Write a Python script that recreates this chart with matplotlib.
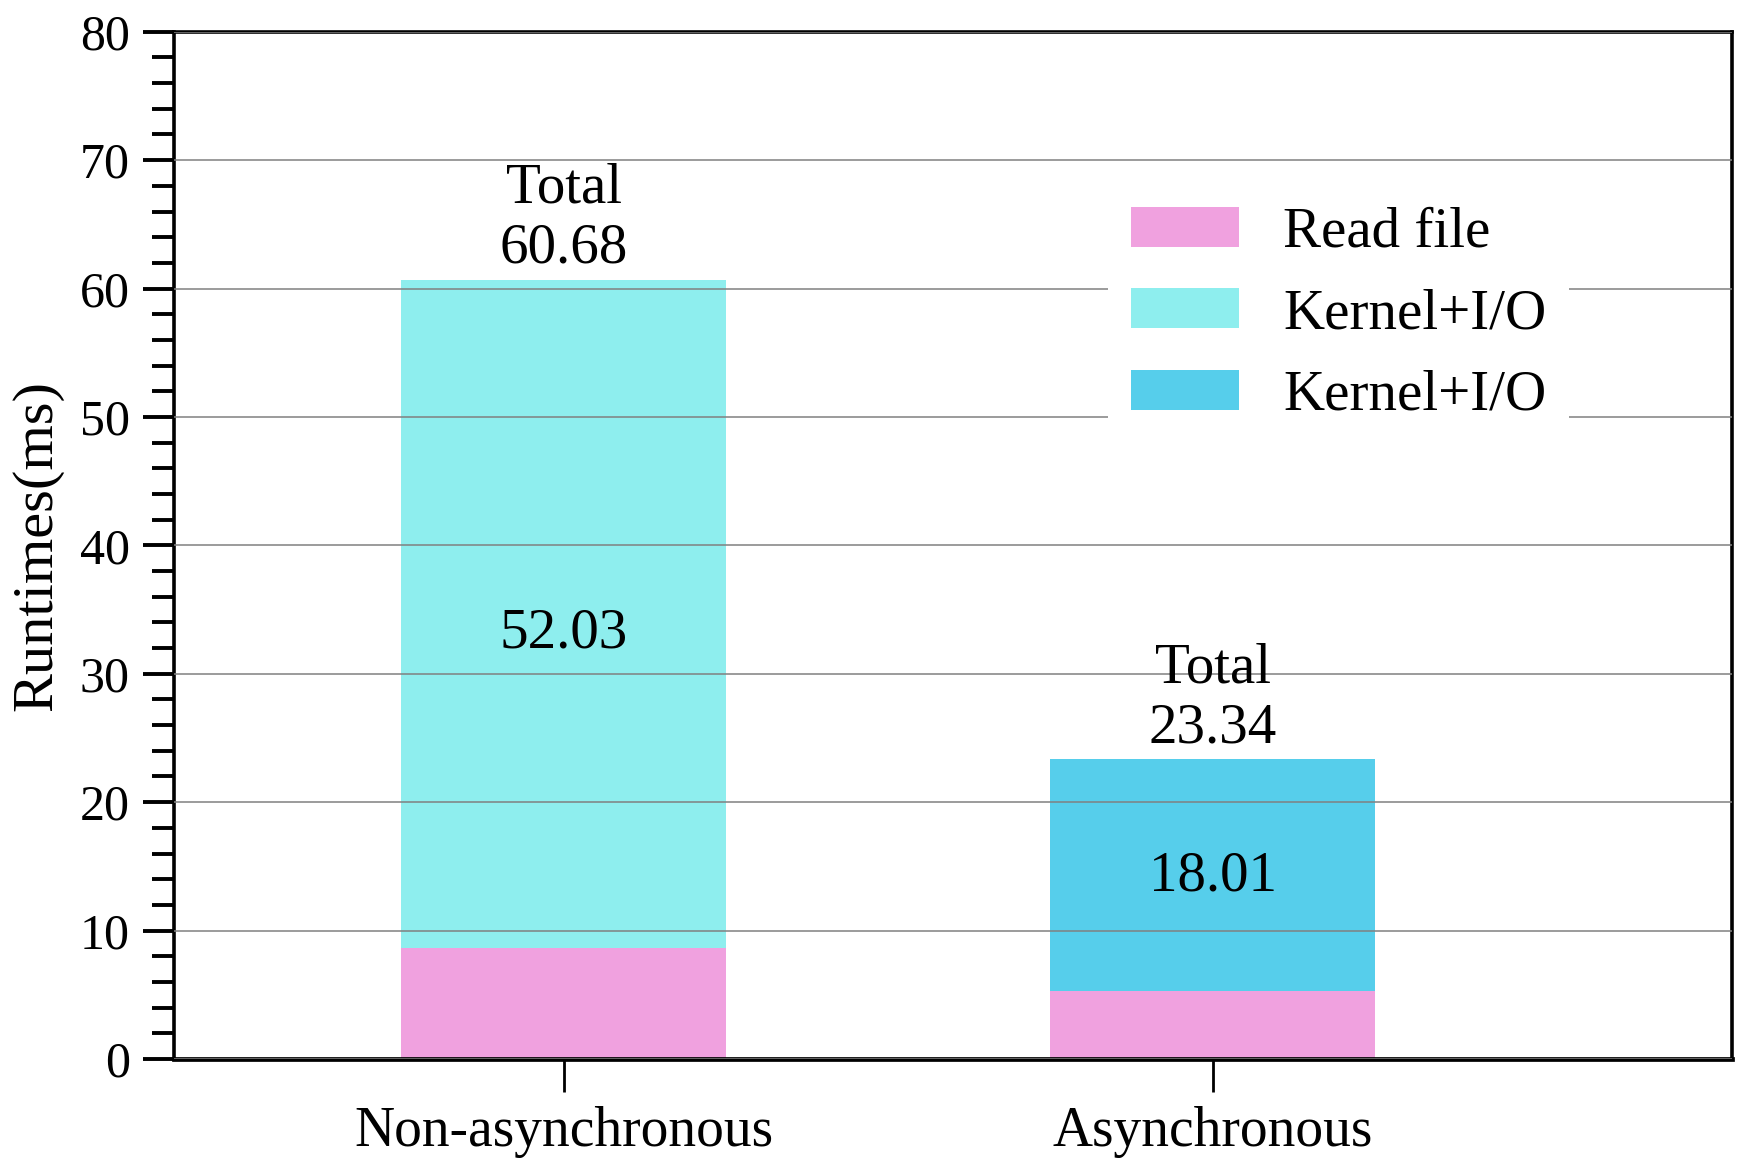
import matplotlib
matplotlib.use("Agg")
from matplotlib import pyplot as plt
from matplotlib.ticker import MultipleLocator

categories = ["Non-asynchronous", "Asynchronous"]
readFile = [8.65, 5.33]
kernelIO = [52.03, 18.01]
totals = [60.68, 23.34]

pink = "#F0A1DF"
lightCyan = "#8EEEEE"
blue = "#56CEEB"

# small nudge of the inner labels, as in the original figure
innerNudge = [-1.5, -0.1]

plt.rcParams["font.family"] = ["Liberation Serif", "DejaVu Serif"]

fig = plt.figure(figsize=(8.8, 5.88), dpi=200)
ax = fig.add_axes([0.099, 0.0995, 0.885, 0.8735])

x = list(range(len(categories)))
width = 0.5

ax.bar(x, readFile, width, color=pink, label="Read file", zorder=1)
ax.bar(x[0], kernelIO[0], width, bottom=readFile[0], color=lightCyan, label="Kernel+I/O", zorder=1)
ax.bar(x[1], kernelIO[1], width, bottom=readFile[1], color=blue, label="Kernel+I/O", zorder=1)

for i in x:
    ax.text(i, totals[i] + 0.4, "Total\n{:.2f}".format(totals[i]), ha="center", va="bottom",
            fontsize=20.5, linespacing=1.2, zorder=4)
    ax.text(i, readFile[i] + kernelIO[i] / 2 + innerNudge[i], "{:.2f}".format(kernelIO[i]),
            ha="center", va="center", fontsize=20.5, zorder=4)

ax.set_xlim(-0.6, 1.8)
ax.set_ylim(0, 80)
ax.set_xticks(x)
ax.set_xticklabels(categories, fontsize=20)
ax.yaxis.set_major_locator(MultipleLocator(10))
ax.yaxis.set_minor_locator(MultipleLocator(2))
ax.tick_params(axis="y", which="major", length=11, width=1.4, labelsize=18, pad=5)
ax.tick_params(axis="y", which="minor", length=8, width=1.4)
ax.tick_params(axis="x", which="major", length=12, width=1.0, pad=5)
ax.set_ylabel("Runtimes(ms)", fontsize=21, labelpad=6)

for side in ["left", "right", "top"]:
    ax.spines[side].set_linewidth(1.3)
ax.spines["bottom"].set_linewidth(1.7)

ax.grid(axis="y", which="major", color="#808080", linewidth=0.55, zorder=2)
ax.set_axisbelow(False)

leg = ax.legend(loc="upper left", bbox_to_anchor=(0.5995, 0.852), borderaxespad=0,
                fontsize=20.5, frameon=True, fancybox=False, handlelength=1.9,
                handleheight=0.7, handletextpad=0.78, labelspacing=0.52, borderpad=0.4)
leg.get_frame().set_edgecolor("none")
leg.get_frame().set_facecolor("white")
leg.get_frame().set_alpha(1.0)
leg.set_zorder(5)

fig.savefig("out.png", dpi=200)
